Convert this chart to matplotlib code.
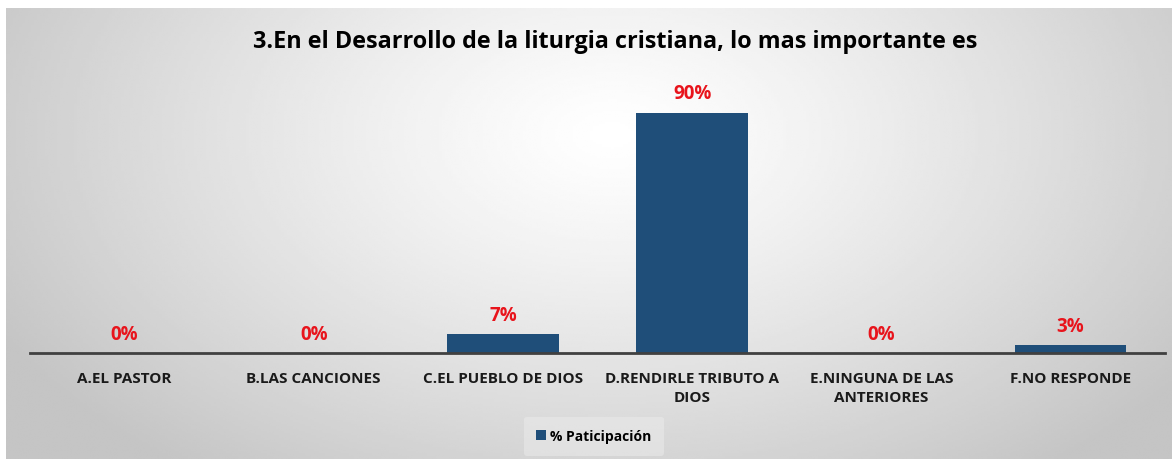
import numpy as np
import matplotlib.pyplot as plt

# --- datos
categorias = ['A.EL PASTOR', 'B.LAS CANCIONES', 'C.EL PUEBLO DE DIOS',
              'D.RENDIRLE TRIBUTO A\nDIOS', 'E.NINGUNA DE LAS\nANTERIORES', 'F.NO RESPONDE']
participacion = [0, 0, 7, 90, 0, 3]
titulo = '3.En el Desarrollo de la liturgia cristiana, lo mas importante es'
serie = '% Paticipación'

plt.rcParams['font.family'] = ['Open Sans', 'DejaVu Sans']

W, H = 1172, 464
fig = plt.figure(figsize=(W / 100, H / 100), dpi=100)
fig.patch.set_facecolor('white')

# --- fondo con degradado radial
bg = fig.add_axes([6 / W, 4 / H, (W - 6) / W, (H - 13) / H])
yy, xx = np.mgrid[0:1:200j, 0:1:400j]
r = np.sqrt(((xx - 0.52) / 0.6) ** 2 + ((yy - 0.72) / 0.95) ** 2)
r = np.clip(r, 0, 1)
grad = 1.0 - 0.23 * r ** 1.2
bg.imshow(grad, cmap='gray', vmin=0, vmax=1, aspect='auto', origin='lower',
          extent=[0, 1, 0, 1], interpolation='bilinear')
bg.set_axis_off()

# --- grafico
ax = fig.add_axes([30 / W, 1 - 354 / H, 1135 / W, 267 / H])
ax.set_facecolor('none')
x = np.arange(len(categorias))
bars = ax.bar(x, participacion, width=0.59, color='#1f4e79', label=serie, zorder=2)
ax.set_xlim(-0.5, len(categorias) - 0.5)
ax.set_ylim(0, 100)

for s in ['top', 'right', 'left']:
    ax.spines[s].set_visible(False)
ax.spines['bottom'].set_color('#404040')
ax.spines['bottom'].set_linewidth(2)
ax.set_yticks([])
ax.set_xticks(x)
ax.set_xticklabels(categorias, fontsize=11, fontweight='bold', color='#1a1a1a',
                   linespacing=1.45)
ax.tick_params(axis='x', length=0, pad=13)

for bar, v in zip(bars, participacion):
    ax.text(bar.get_x() + bar.get_width() / 2, v + 3.5, f'{v}%', ha='center', va='bottom',
            fontsize=13.5, fontweight='bold', color='#e8141c')

fig.text(615 / W, 1 - 42 / H, titulo, ha='center', va='center',
         fontsize=16.8, fontweight='bold', color='black')

# --- leyenda
leg = fig.legend(handles=[bars], labels=[serie], loc='center',
                 bbox_to_anchor=(594 / W, 1 - 437 / H), frameon=True,
                 prop={'size': 10, 'weight': 'bold'}, handlelength=0.7, handleheight=0.7,
                 handletextpad=0.3, borderpad=0.9)
leg.get_frame().set_facecolor('#ececec')
leg.get_frame().set_edgecolor('none')
leg.get_frame().set_alpha(0.5)

fig.savefig('out.png', dpi=100)
